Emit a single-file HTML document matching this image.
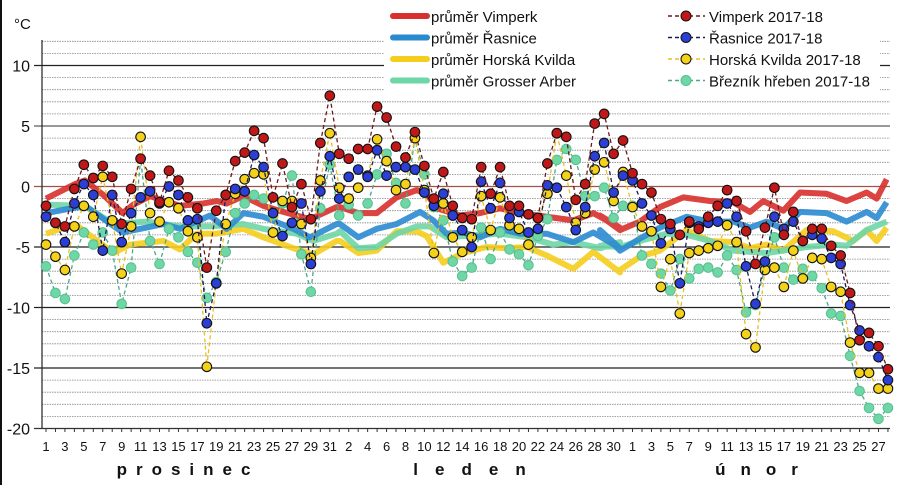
<!DOCTYPE html>
<html><head><meta charset="utf-8"><style>
html,body{margin:0;padding:0;background:#fff}
svg{display:block}
text{font-family:"Liberation Sans",sans-serif}
</style></head><body>
<svg id="s" width="900" height="485" xmlns="http://www.w3.org/2000/svg"></svg>
<script>
const S=document.getElementById('s');
let h='';
const X=i=>46+i*9.46, Y=v=>186.5-12.1*v;
h+='<rect x="0" y="0" width="2" height="485" fill="#111"/>';
for(let v=12;v>=-20;v--){
  const y=Y(v);
  if(v%5==0){
    let c=v==0?'#a0524d':(v==5?'#999':'#222'); let w=v==5?2:1.3;
    if(v==-20){c='#333';w=1.2}
    h+=`<line x1="34" x2="890" y1="${y}" y2="${y}" stroke="${c}" stroke-width="${w}"/>`;
  } else h+=`<line x1="42" x2="890" y1="${y}" y2="${y}" stroke="#888" stroke-width="0.8" stroke-dasharray="1.5,1"/>`;
}
h+=`<rect x="384" y="2" width="496" height="91" fill="#fff"/>`;
h+=`<line x1="42" x2="42" y1="40" y2="428" stroke="#222" stroke-width="1.2"/>`;
[[10,'10'],[5,'5'],[0,'0'],[-5,'-5'],[-10,'-10'],[-15,'-15'],[-20,'-20']].forEach(([v,t])=>{
 h+=`<text x="30" y="${Y(v)+6}" font-size="16" text-anchor="end" fill="#111">${t}</text>`;});
h+=`<text x="14" y="29" font-size="15" fill="#111">°C</text>`;
for(let i=0;i<90;i++){
 h+=`<line x1="${X(i)}" x2="${X(i)}" y1="428" y2="432" stroke="#333"/>`;
 let d,lab=false;
 if(i<31){d=i+1;lab=d%2==1}else if(i<62){d=i-30;lab=d%2==0}else{d=i-61;lab=d%2==1}
 if(lab)h+=`<text x="${X(i)}" y="451" font-size="13" text-anchor="middle" fill="#111">${d}</text>`;
}
h+=`<text x="188" y="475" font-size="17" font-weight="bold" letter-spacing="9" text-anchor="middle" fill="#111">prosinec</text>`;
h+=`<text x="478" y="475" font-size="17" font-weight="bold" letter-spacing="17" text-anchor="middle" fill="#111">leden</text>`;
h+=`<text x="764" y="475" font-size="17" font-weight="bold" letter-spacing="15" text-anchor="middle" fill="#111">únor</text>`;
function avg(pts,c){h+=`<polyline points="${pts.map(p=>p[0]+','+Y(p[1])).join(' ')}" fill="none" stroke="${c}" stroke-width="6" stroke-linejoin="round" opacity="0.9"/>`;}
const z1=x=>x/3+30,z2=x=>x/3+320,z3=x=>x/3+600;
const m=(f,a)=>a.map(p=>[f(p[0]),p[1]]);
const yel=[...m(z1,[[48,-3.9],[135,-3.1],[250,-5.5],[300,-4.8],[400,-4.5],[450,-5.2],[500,-3.9],[560,-3.9],[640,-3.5],[700,-4.2],[790,-5.1],[850,-5.6],[920,-4.5]]),...m(z2,[[60,-4.5],[115,-5.5],[170,-5.3],[230,-3.7],[290,-3.7],[320,-4.1],[370,-6.3],[430,-5.5],[500,-5],[560,-5.1],[620,-5],[680,-5.7],[760,-6.8],[820,-5.4],[900,-7.1]]),...m(z3,[[60,-6.9],[120,-5.8],[180,-5.3],[260,-3.6],[330,-4.5],[400,-4.6],[450,-5.1],[500,-4.8],[550,-5.3],[620,-3.6],[700,-3.7],[760,-4.5],[800,-3.6],[830,-4.5],[860,-3.4]])];
const grn=[...m(z1,[[48,-1.5],[165,-1.6],[250,-3.1],[350,-2.9],[450,-3.3],[540,-3.3],[640,-3.1],[700,-3.5],[800,-3.9],[850,-4.5],[920,-3.9]]),...m(z2,[[60,-3.7],[115,-5.1],[170,-5],[230,-3.9],[290,-3.3],[330,-3.3],[380,-4.2],[480,-4],[540,-3.9],[620,-4.2],[700,-4.8],[760,-4.6],[840,-5.1],[900,-4.6]]),...m(z3,[[0,-4.9],[60,-5],[120,-4.5],[200,-3.9],[260,-4],[330,-4.5],[400,-5.3],[450,-5.4],[500,-5.5],[550,-5.3],[620,-5],[700,-4.8],[740,-4.9],[800,-3.6],[860,-2.9]])];
const blu=[...m(z1,[[48,-2.2],[165,-1.6],[278,-3.8],[400,-3.1],[450,-3.5],[540,-2.4],[590,-3.5],[640,-2.2],[700,-2.5],[790,-3.5],[840,-4.2],[920,-3.1]]),...m(z2,[[60,-3.1],[115,-4.2],[170,-3.5],[230,-3.1],[300,-2.1],[340,-2.8],[380,-3.9],[430,-3.8],[480,-4.2],[540,-3.5],[600,-3.9],[680,-3.9],[760,-4.6],[820,-3.8],[900,-5.1]]),...m(z3,[[0,-3.6],[60,-5.3],[120,-4.3],[180,-3.4],[260,-2.5],[330,-2.9],[400,-2.9],[450,-3.4],[500,-2.9],[550,-3.5],[600,-2.1],[680,-2.2],[740,-2.9],[800,-2.1],[830,-2.6],[860,-1.3]])];
const red=[...m(z1,[[48,-1],[135,0.2],[165,0.5],[220,-0.7],[278,-2.2],[310,-1.5],[360,-0.8],[450,-1.6],[520,-1.4],[560,-1.2],[590,-1.4],[640,-0.8],[700,-1.6],[760,-2.1],[840,-2.7],[920,-1.7]]),...m(z2,[[60,-1.7],[115,-2.2],[170,-2.2],[230,-0.9],[290,-0.3],[320,-0.6],[350,-1.8],[420,-2.4],[480,-2.2],[540,-1.8],[600,-2.2],[680,-2.5],[760,-2.8],[820,-2.2],[900,-3.4]]),...m(z3,[[0,-2.4],[60,-3.6],[120,-2.9],[180,-1.7],[250,-0.9],[330,-1.2],[400,-1.3],[450,-2.1],[490,-1.2],[550,-2],[600,-0.5],[680,-0.6],[740,-1.2],[800,-0.5],[830,-1],[860,0.6]])];
avg(yel,'#f5cd1c');avg(grn,'#6fd6a6');avg(blu,'#2a8ad0');avg(red,'#d8302c');
const R=[-1.6,-3,-3.3,-0.2,1.8,0.7,1.7,0.8,-3.1,-0.2,2.3,0.9,-1.3,1.3,0.5,-0.9,-1.8,-6.7,-2,-0.7,2.1,2.8,4.6,4,-0.9,1.9,-1.7,0.2,-2.7,3.6,7.5,
2.7,2.3,3.1,3.1,6.6,5.7,3.3,2.4,4.5,1.7,-1,1.2,-1.6,-2.6,-2.7,1.6,-0.6,1.6,-1.6,-1.6,-2.3,-2.6,1.9,4.4,4.1,-1.1,0.2,5.2,6,2.7,3.8,
1.1,0.2,-0.5,-2.7,-3.1,-4,-2.9,-3.5,-2.5,-1.6,-0.3,-1.2,-3.7,-6.4,-3.4,-0.1,-4,-2.1,-4.5,-3.5,-3.5,-4.9,-5.7,-8.8,-12.7,-12.1,-13.2,-15.1];
const B=[-2.5,-3,-4.6,-1.4,0.2,-0.7,-5.3,-0.7,-4.6,-2.2,-0.9,-0.4,-1.4,0,-0.7,-2.8,-2.7,-11.3,-8,-0.7,-0.2,-0.4,2.6,1.6,-2.2,-4.1,-3,-1.4,-6.4,-0.4,2.5,
-1,0.8,1.4,0.8,3,0.9,1.6,1.6,1.4,-0.5,-1.6,-0.6,-2.4,-3.6,-5,0.4,-1.8,0.3,-2.6,-2.1,-3.8,-3.5,0.1,-0.1,-1.7,-3.6,-1.7,2.5,3.6,-0.5,0.9,
0.5,-1.4,-2.4,-4.7,-3.5,-8,-3,-3.3,-3,-2.9,-1.4,-2.5,-6.6,-9.7,-6.2,-2.5,-3.5,-2.9,-4.5,-4,-4.3,-5.9,-6.4,-9.8,-11.9,-13.2,-14.1,-16];
const Yw=[-4.8,-5.8,-6.9,-3.3,-1.6,-2.5,0.8,-2.8,-7.2,-3.3,4.1,-2.2,-2.9,-1.3,-1.8,-3.7,-4.2,-14.9,-8,-3.1,-0.6,0.6,1.1,1,-3.8,-1.2,-1.2,-3.1,-5.9,0.5,4.4,
-0.1,-1,-0.1,0.9,3.9,2.1,-0.3,0.2,4,-0.3,-5.5,-1.4,-4.2,-5.4,-4.2,-0.8,-3.6,-0.9,-3.2,-3.5,-4.8,-2.6,-0.6,4.4,0.9,-3,-2.2,1.4,2,-1.2,1.2,
-1.7,-3.3,-3.7,-8.3,-6,-10.5,-5.5,-5.3,-5.1,-4.9,-3.2,-4.6,-12.2,-13.3,-6.9,-6.7,-8.3,-5.3,-7.6,-5.9,-6,-8.3,-8.7,-12.9,-15.4,-15.4,-16.7,-16.7];
const G=[-6.6,-8.8,-9.3,-5.7,-3.8,-4.8,-3.8,-5.3,-9.7,-6.7,2.3,-4.5,-6.4,-3.5,-4.2,-5.4,-6.3,-9.2,-7.9,-5.4,-2.2,-1.4,-0.7,-1,-2.4,-1.4,0.9,-5.6,-8.7,-1.8,1.8,
-2.4,-1.5,-2.4,-1.4,1,2.7,0.3,-1.4,4,1,-1.7,-2.8,-6.2,-7.4,-6.7,-3.4,-6,-3.8,-5.2,-5.6,-6.5,-4.1,-2.7,2.2,3.1,2.2,-0.8,-0.8,-0.1,-2.6,-1.6,
-1.6,-5.7,-6.4,-7.2,-8.6,-6,-7.6,-6.8,-6.7,-7.1,-5.7,-6.9,-10.4,-9.8,-6.7,-4.2,-6.7,-7.7,-6.8,-7.4,-8.4,-10.5,-10.7,-14,-16.9,-18.3,-19.2,-18.3];
function ser(a,lc,fc){
 h+=`<polyline points="${a.map((v,i)=>X(i)+','+Y(v)).join(' ')}" fill="none" stroke="${lc}" stroke-width="1.3" stroke-dasharray="4,3"/>`;
 a.forEach((v,i)=>{h+=`<circle cx="${X(i)}" cy="${Y(v)}" r="4.8" fill="${fc}" stroke="#111" stroke-width="1.1"/>`;});
}
function serG(a){
 h+=`<polyline points="${a.map((v,i)=>X(i)+','+Y(v)).join(' ')}" fill="none" stroke="#4aa88a" stroke-width="1.3" stroke-dasharray="4,3"/>`;
 a.forEach((v,i)=>{h+=`<circle cx="${X(i)}" cy="${Y(v)}" r="4.8" fill="#6fd6a6" stroke="#55c08f" stroke-width="1"/>`;});
}
serG(G);ser(Yw,'#e8c020','#f5d21a');ser(B,'#1a1a5a','#2b3fd6');ser(R,'#6a1a1a','#c01818');
const L=[['průměr Vimperk','#d8302c'],['průměr Řasnice','#2a8ad0'],['průměr Horská Kvilda','#f5cd1c'],['průměr Grosser Arber','#6fd6a6']];
L.forEach((l,k)=>{const y=16+k*21.5;h+=`<line x1="393" x2="427" y1="${y}" y2="${y}" stroke="${l[1]}" stroke-width="6" stroke-linecap="round"/><text x="431" y="${y+6}" font-size="15" fill="#111">${l[0]}</text>`;});
const L2=[['Vimperk 2017-18','#6a1a1a','#c01818','#111'],['Řasnice 2017-18','#1a1a5a','#2b3fd6','#111'],['Horská Kvilda 2017-18','#e8c020','#f5d21a','#111'],['Březník hřeben 2017-18','#4aa88a','#6fd6a6','#55c08f']];
L2.forEach((l,k)=>{const y=16+k*21.5;h+=`<line x1="668" x2="705" y1="${y}" y2="${y}" stroke="${l[1]}" stroke-width="1.5" stroke-dasharray="4,3"/><circle cx="686" cy="${y}" r="5" fill="${l[2]}" stroke="${l[3]}"/><text x="709" y="${y+6}" font-size="15" fill="#111">${l[0]}</text>`;});
S.innerHTML=h;
</script>
</body></html>
